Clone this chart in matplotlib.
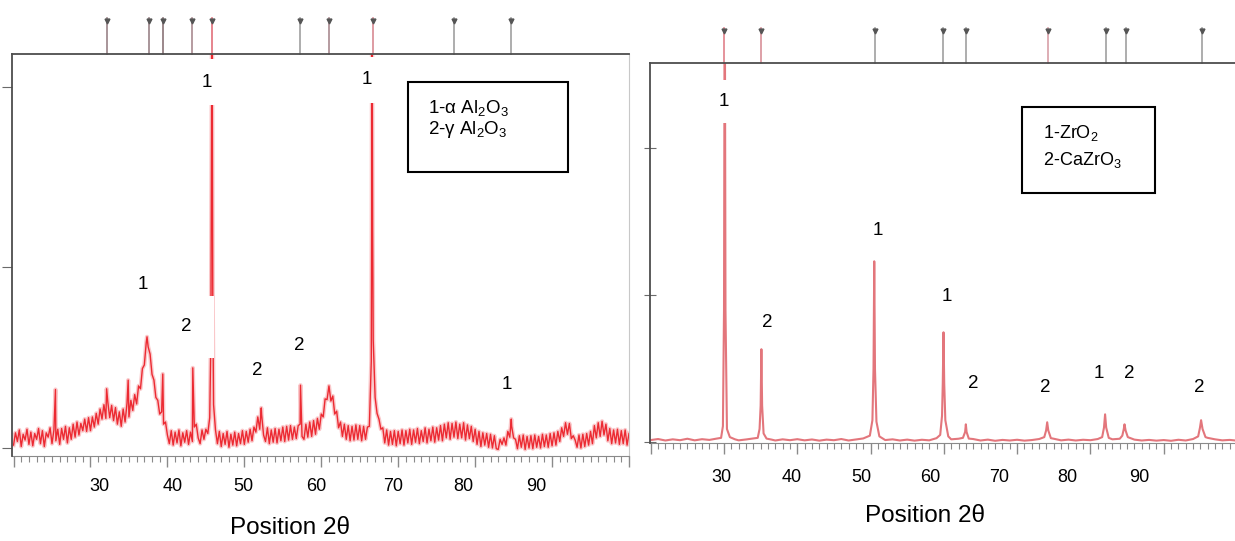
import numpy as np
import matplotlib.pyplot as plt
from matplotlib.patches import Rectangle
from matplotlib.ticker import MultipleLocator
from matplotlib import font_manager

plt.rcParams['font.family'] = ['Liberation Sans', 'DejaVu Sans']
plt.rcParams['mathtext.fontset'] = 'custom'
plt.rcParams['mathtext.rm'] = 'Liberation Sans'
plt.rcParams['mathtext.default'] = 'regular'

try:
    font_manager.findfont('Liberation Sans Narrow', fallback_to_default=False)
    narrow = ['Liberation Sans Narrow', 'DejaVu Sans']
except ValueError:
    narrow = ['Liberation Sans', 'DejaVu Sans']

# ---- Al2O3 scan: counts every 0.25 deg from 20 to 100 ----
al_scan_theta = np.arange(20.0, 100.001, 0.25)
al_scan_counts = [
    40, 210, 90, 250, 20, 190, 110, 260, 50, 220,             # 20.00 - 22.25
    30, 200, 120, 270, 60, 240, 20, 210, 150, 280,            # 22.50 - 24.75
    60, 250, 100, 260, 50, 270, 120, 300, 70, 280,            # 25.00 - 27.25
    120, 330, 150, 360, 180, 340, 240, 400, 230, 420,         # 27.50 - 29.75
    240, 430, 290, 480, 330, 540, 400, 600, 410, 640,         # 30.00 - 32.25
    420, 590, 380, 560, 330, 500, 300, 540, 360, 620,         # 32.50 - 34.75
    430, 660, 520, 740, 610, 860, 820, 1100, 1150, 1460,      # 35.00 - 37.25
    1400, 1300, 1020, 940, 700, 660, 470, 500, 330, 360,      # 37.50 - 39.75
    180, 60, 240, 40, 220, 70, 250, 30, 210, 80,              # 40.00 - 42.25
    240, 50, 220, 90, 290, 330, 140, 60, 250, 120,            # 42.50 - 44.75
    260, 200, 420, 4500, 600, 250, 60, 230, 20, 200,          # 45.00 - 47.25
    50, 230, 10, 190, 40, 220, 30, 200, 60, 240,              # 47.50 - 49.75
    50, 230, 80, 260, 100, 290, 220, 430, 260, 460,           # 50.00 - 52.25
    180, 90, 280, 60, 250, 80, 270, 70, 260, 100,             # 52.50 - 54.75
    290, 90, 300, 110, 310, 120, 290, 130, 310, 330,          # 55.00 - 57.25
    160, 120, 330, 150, 360, 160, 380, 190, 410, 260,         # 57.50 - 59.75
    470, 430, 680, 670, 860, 650, 720, 470, 510, 280,         # 60.00 - 62.25
    360, 160, 330, 120, 310, 100, 300, 110, 320, 120,         # 62.50 - 64.75
    310, 100, 300, 120, 290, 300, 1200, 1500, 700, 480,       # 65.00 - 67.25
    400, 260, 280, 70, 250, 40, 230, 50, 240, 30,             # 67.50 - 69.75
    230, 60, 250, 40, 240, 70, 260, 50, 250, 80,              # 70.00 - 72.25
    270, 60, 240, 90, 280, 70, 260, 100, 290, 80,             # 72.50 - 74.75
    280, 110, 310, 100, 330, 140, 350, 120, 340, 150,         # 75.00 - 77.25
    360, 130, 330, 140, 350, 110, 320, 130, 300, 90,          # 77.50 - 79.75
    260, 50, 230, 20, 210, 40, 200, 10, 190, 0,               # 80.00 - 82.25
    170, -10, -20, 120, 50, 140, 40, 230, 150, 300,           # 82.50 - 84.75
    140, 120, -10, 170, 10, 180, -20, 160, 0, 170,            # 85.00 - 87.25
    -10, 180, 10, 160, 0, 190, 20, 180, 10, 200,              # 87.50 - 89.75
    30, 210, 40, 230, 90, 280, 160, 350, 190, 340,            # 90.00 - 92.25
    130, 170, 110, 10, 180, 0, 190, 20, 200, 40,              # 92.50 - 94.75
    230, 60, 310, 140, 350, 160, 370, 180, 330, 100,          # 95.00 - 97.25
    270, 60, 250, 70, 260, 50, 240, 60, 250, 40,              # 97.50 - 99.75
    200,                                                      # 100.00
]
# sharp reflections sitting between the scan points
al_peak_theta = [25.45, 32.1, 34.9, 37.35, 39.4, 43.3, 45.65, 45.8, 45.9,
                 52.2, 57.3, 66.55, 66.6, 66.68, 84.7]
al_peak_counts = [810, 820, 940, 1540, 1025, 1110, 1500, 6500, 2000,
                  555, 870, 3000, 6500, 3000, 400]

# reference lines drawn above the Al2O3 plot
al_ref_theta = [32.1, 37.6, 39.4, 43.2, 45.8, 57.2, 61.0, 66.7, 77.3, 84.7]

# peak phase labels (1 = alpha, 2 = gamma)
al_label_theta = [45.1, 65.9, 36.8, 42.5, 51.7, 57.2, 84.1]
al_label_counts = [5069, 5097, 2271, 1676, 1080, 1413, 886]
al_label_text = ['1', '1', '1', '2', '2', '2', '1']

# ---- ZrO2 scan ----
zr_theta = [20, 21, 22, 23, 24, 25, 26, 27, 28, 29,
            29.6, 29.85, 30.0, 30.1, 30.2, 30.4, 30.8, 31.5, 32, 33, 34,
            34.6, 34.85, 35.0, 35.1, 35.2, 35.4, 35.8, 36.5, 37, 38, 39,
            40, 41, 42, 43, 44, 45, 46, 47, 48, 49,
            49.9, 50.25, 50.4, 50.5, 50.6, 50.8, 51.2, 52, 53, 54, 55, 56, 57, 58, 59,
            59.5, 59.75, 59.85, 59.95, 60.05, 60.2, 60.6, 61, 62,
            62.6, 62.9, 63.0, 63.1, 63.4, 64, 65, 66, 67, 68, 69, 70, 71, 72, 73,
            73.7, 73.95, 74.1, 74.25, 74.6, 75, 76, 77, 78, 79, 80, 81,
            81.6, 81.85, 82.0, 82.15, 82.5, 83, 84,
            84.35, 84.55, 84.65, 84.8, 85.1, 86, 87, 88, 89, 90, 91, 92, 93, 94,
            94.7, 94.95, 95.1, 95.3, 95.7, 96, 97, 98, 99, 100]
zr_counts = [15, 22, 12, 20, 14, 24, 13, 21, 16, 25,
             30, 110, 900, 3500, 900, 90, 35, 20, 13, 19, 26,
             30, 90, 250, 633, 250, 60, 25, 18, 12, 20, 14,
             21, 13, 19, 11, 18, 14, 22, 12, 19, 26,
             45, 150, 500, 1231, 500, 140, 40, 15, 20, 12, 18, 11, 17, 13, 28,
             50, 180, 400, 748, 400, 150, 40, 20, 24,
             30, 70, 122, 70, 25, 22, 12, 18, 10, 16, 12, 17, 11, 15, 22,
             35, 80, 136, 80, 28, 24, 13, 18, 12, 17, 14, 22,
             35, 100, 190, 100, 30, 20, 24,
             45, 90, 122, 80, 35, 18, 12, 16, 11, 15, 10, 17, 12, 22,
             40, 100, 150, 90, 35, 30, 20, 13, 16, 11]

zr_ref_theta = [30.0, 35.0, 50.6, 59.9, 63.0, 74.2, 82.1, 84.8, 95.2]

# 1 = ZrO2, 2 = CaZrO3
zr_label_theta = [30.0, 35.9, 51.0, 60.4, 64.0, 73.9, 81.2, 85.3, 94.9]
zr_label_counts = [2319, 816, 1442, 993, 401, 374, 469, 469, 374]
zr_label_text = ['1', '2', '1', '1', '2', '2', '1', '2', '2']

tick_values = [30, 40, 50, 60, 70, 80, 90]
al_ticklabel_pos = [31.2, 40.7, 49.9, 59.4, 69.3, 78.4, 87.9]
zr_ticklabel_pos = [29.7, 39.3, 48.8, 58.2, 67.6, 76.9, 86.6]

# merge scan points and reflections into one Al2O3 pattern
al_theta = np.concatenate([al_scan_theta, al_peak_theta])
al_counts = np.concatenate([al_scan_counts, al_peak_counts])
order = np.argsort(al_theta)
al_theta, al_counts = al_theta[order], al_counts[order]

fig = plt.figure(figsize=(12.35, 5.41), dpi=100)
ax1 = fig.add_axes([12 / 1235, (541 - 456) / 541, 617 / 1235, 402 / 541])
ax2 = fig.add_axes([650 / 1235, (541 - 443) / 541, 587 / 1235, 380 / 541])

ax1.plot(al_theta, al_counts, color='#f7a4a8', lw=3.0, alpha=0.6)
ax1.plot(al_theta, al_counts, color='#ec2a32', lw=1.0)
ax2.plot(zr_theta, zr_counts, color='#e3767c', lw=1.5)

ax1.set_xlim(19.8, 99.9)
ax1.set_ylim(-111, 5457)
ax1.set_yticks([0, 2500, 5000])
ax2.set_xlim(19.9, 100)
ax2.set_ylim(-5, 2580)
ax2.set_yticks([0, 1000, 2000])

for ax in (ax1, ax2):
    ax.set_xticks(np.arange(20, 101, 10))
    ax.xaxis.set_minor_locator(MultipleLocator(1))
    ax.set_xticklabels([])
    ax.set_yticklabels([])
    ax.tick_params(axis='x', which='major', direction='out', length=8,
                   width=1.0, color='#8a8a8a')
    ax.tick_params(axis='x', which='minor', direction='out', length=4,
                   width=0.8, color='#8a8a8a')
    for side in ('left', 'top'):
        ax.spines[side].set_color('#4d4d4d')
        ax.spines[side].set_linewidth(1.3)
        ax.spines[side].set_zorder(6)
    ax.spines['bottom'].set_color('#8a8a8a')
    ax.spines['right'].set_color('#c8c8c8')

ax1.tick_params(axis='y', direction='out', length=7, color='#6a6a6a')
ax2.tick_params(axis='y', direction='inout', length=8, color='#6a6a6a')


def draw_refs(ax, positions, colors, top):
    tr = ax.get_xaxis_transform()
    for p, c in zip(positions, colors):
        ax.plot([p, p], [1.0, top], color=c, lw=1.2, transform=tr,
                clip_on=False)
        ax.plot(p, top - 0.008, marker='v', ms=3.5, color='#555555',
                transform=tr, clip_on=False)


draw_refs(ax1, al_ref_theta,
          ['#9a8387', '#9a8387', '#8a7377', '#a98a90', '#e2707a',
           '#a0a0a0', '#a98a90', '#d88a92', '#a0a0a0', '#a0a0a0'], 1.09)
draw_refs(ax2, zr_ref_theta,
          ['#e0808a', '#d89098', '#a0a0a0', '#a0a0a0', '#a0a0a0',
           '#d8a0a8', '#a0a0a0', '#a0a0a0', '#a0a0a0'], 1.092)

al_pads = [0.75, 0.75, 0.5, 1.2, 0.5, 0.5, 0.5]
for x, y, s, pad in zip(al_label_theta, al_label_counts, al_label_text, al_pads):
    ax1.text(x, y, s, ha='center', va='center', fontsize=13.5, zorder=5,
             bbox=dict(facecolor='white', edgecolor='none',
                       boxstyle='square,pad=%s' % pad))

zr_pads = [0.7, 0.6, 0.5, 0.5, 0.5, 0.5, 0.5, 0.5, 0.5]
for x, y, s, pad in zip(zr_label_theta, zr_label_counts, zr_label_text, zr_pads):
    ax2.text(x, y, s, ha='center', va='center', fontsize=13.5, zorder=5,
             bbox=dict(facecolor='white', edgecolor='none',
                       boxstyle='square,pad=%s' % pad))

# phase key boxes
ax1.add_patch(Rectangle((0.642, 0.706), 0.259, 0.224, transform=ax1.transAxes,
                        facecolor='white', edgecolor='black', lw=1.5, zorder=6))
ax1.text(0.674, 0.866, r'1-α Al$_2$O$_3$', transform=ax1.transAxes,
         fontsize=13.5, va='center', zorder=7)
ax1.text(0.674, 0.811, r'2-γ Al$_2$O$_3$', transform=ax1.transAxes,
         fontsize=13.5, va='center', zorder=7)

ax2.add_patch(Rectangle((0.634, 0.658), 0.2266, 0.226, transform=ax2.transAxes,
                        facecolor='white', edgecolor='black', lw=1.5, zorder=6))
ax2.text(0.669, 0.816, r'1-ZrO$_2$', transform=ax2.transAxes,
         fontsize=13, va='center', zorder=7)
ax2.text(0.669, 0.745, r'2-CaZrO$_3$', transform=ax2.transAxes,
         fontsize=13, va='center', zorder=7)

# tick numbers and axis titles
for ax, pos, ylab, xt, yt in ((ax1, al_ticklabel_pos, -0.077, 0.45, -0.179),
                              (ax2, zr_ticklabel_pos, -0.092, 0.468, -0.192)):
    tr = ax.get_xaxis_transform()
    for p, v in zip(pos, tick_values):
        ax.text(p, ylab, str(v), transform=tr, ha='center', va='center',
                fontsize=13, family=narrow)
    ax.text(xt, yt, 'Position 2θ', transform=ax.transAxes, ha='center',
            va='center', fontsize=17.5, family=narrow)

fig.savefig('out.png', dpi=100)
